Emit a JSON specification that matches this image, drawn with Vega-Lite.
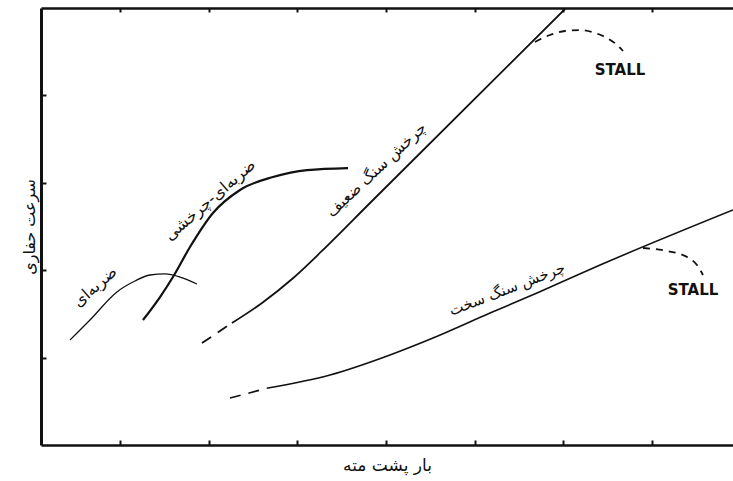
{
  "$schema": "https://vega.github.io/schema/vega-lite/v6.json",
  "width": 692,
  "height": 437,
  "autosize": "none",
  "padding": {"left": 41, "top": 8, "right": 0, "bottom": 36},
  "background": "white",
  "config": {
    "view": {"stroke": null},
    "font": "DejaVu Sans"
  },
  "datasets": {
    "curves": [
      {"c": "p", "x": 0.437, "y": 1.201},
      {"c": "p", "x": 0.662, "y": 1.430},
      {"c": "p", "x": 0.966, "y": 1.751},
      {"c": "p", "x": 1.169, "y": 1.876},
      {"c": "p", "x": 1.339, "y": 1.945},
      {"c": "p", "x": 1.508, "y": 1.957},
      {"c": "p", "x": 1.677, "y": 1.922},
      {"c": "p", "x": 1.869, "y": 1.842},
      {"c": "pr", "x": 1.260, "y": 1.430},
      {"c": "pr", "x": 1.452, "y": 1.693},
      {"c": "pr", "x": 1.598, "y": 1.922},
      {"c": "pr", "x": 1.790, "y": 2.265},
      {"c": "pr", "x": 2.049, "y": 2.654},
      {"c": "pr", "x": 2.354, "y": 2.918},
      {"c": "pr", "x": 2.726, "y": 3.066},
      {"c": "pr", "x": 3.110, "y": 3.146},
      {"c": "pr", "x": 3.572, "y": 3.169},
      {"c": "sd", "x": 1.925, "y": 1.167},
      {"c": "sd", "x": 2.263, "y": 1.396},
      {"c": "s", "x": 2.263, "y": 1.396},
      {"c": "s", "x": 2.602, "y": 1.625},
      {"c": "s", "x": 2.941, "y": 1.899},
      {"c": "s", "x": 3.278, "y": 2.220},
      {"c": "s", "x": 3.820, "y": 2.769},
      {"c": "s", "x": 6.030, "y": 5.0},
      {"c": "hd", "x": 2.241, "y": 0.538},
      {"c": "hd", "x": 2.669, "y": 0.652},
      {"c": "h", "x": 2.669, "y": 0.652},
      {"c": "h", "x": 3.369, "y": 0.801},
      {"c": "h", "x": 4.045, "y": 1.030},
      {"c": "h", "x": 4.530, "y": 1.224},
      {"c": "h", "x": 5.173, "y": 1.510},
      {"c": "h", "x": 5.703, "y": 1.739},
      {"c": "h", "x": 6.414, "y": 2.059},
      {"c": "h", "x": 7.913, "y": 2.689},
      {"c": "st1", "x": 5.680, "y": 4.611},
      {"c": "st1", "x": 5.849, "y": 4.691},
      {"c": "st1", "x": 6.018, "y": 4.737},
      {"c": "st1", "x": 6.188, "y": 4.748},
      {"c": "st1", "x": 6.357, "y": 4.714},
      {"c": "st1", "x": 6.492, "y": 4.657},
      {"c": "st1", "x": 6.605, "y": 4.577},
      {"c": "st1", "x": 6.673, "y": 4.508},
      {"c": "st2", "x": 6.898, "y": 2.254},
      {"c": "st2", "x": 7.169, "y": 2.220},
      {"c": "st2", "x": 7.395, "y": 2.151},
      {"c": "st2", "x": 7.507, "y": 2.059},
      {"c": "st2", "x": 7.575, "y": 1.945}
    ],
    "labels": [
      {"k": "p", "x": 0.718, "y": 1.810, "t": "ضربه‌ای"},
      {"k": "pr", "x": 2.015, "y": 2.803, "t": "ضربه‌ای-چرخشی"},
      {"k": "s", "x": 3.890, "y": 3.150, "t": "چرخش سنگ ضعیف"},
      {"k": "h", "x": 5.365, "y": 1.785, "t": "چرخش سنگ سخت"},
      {"k": "st", "x": 6.639, "y": 4.291, "t": "STALL"},
      {"k": "st", "x": 7.462, "y": 1.773, "t": "STALL"}
    ]
  },
  "resolve": {"axis": {"x": "independent"}},
  "encoding": {
    "x": {"field": "x", "type": "quantitative", "scale": {"domain": [0.11, 7.913], "nice": false, "zero": false}, "axis": null},
    "y": {"field": "y", "type": "quantitative", "scale": {"domain": [0, 5], "nice": false, "zero": false},
      "axis": {"orient": "left", "values": [1, 2, 3, 4], "tickSize": -5, "tickWidth": 2, "tickColor": "#111", "domainColor": "#111", "domainWidth": 3, "labels": false, "grid": false,
        "title": "سرعت حفاری", "titleFont": "DejaVu Sans", "titleFontSize": 16, "titleFontWeight": "normal", "titleColor": "#111", "titlePadding": 3}}
  },
  "layer": [
    {
      "data": {"name": "curves"},
      "transform": [{"filter": "datum.c === 'p'"}],
      "mark": {"type": "line", "color": "#111", "strokeWidth": 1.3, "interpolate": "monotone", "clip": true},
      "encoding": {
        "x": {"field": "x", "type": "quantitative", "scale": {"domain": [0.11, 7.913], "nice": false, "zero": false},
          "axis": {"orient": "bottom", "values": [1, 2, 3, 4, 5, 6, 7], "tickSize": -5, "tickWidth": 2, "tickColor": "#111", "domainColor": "#111", "domainWidth": 2.5, "labels": false, "grid": false,
            "title": "بار پشت مته", "titleFont": "DejaVu Sans", "titleFontSize": 17, "titleFontWeight": "normal", "titleColor": "#111", "titlePadding": 11}}
      }
    },
    {
      "data": {"name": "curves"},
      "transform": [{"filter": "datum.c === 'pr'"}],
      "mark": {"type": "line", "color": "#111", "strokeWidth": 2.2, "interpolate": "monotone", "clip": true},
      "encoding": {
        "x": {"field": "x", "type": "quantitative", "scale": {"domain": [0.11, 7.913], "nice": false, "zero": false},
          "axis": {"orient": "top", "values": [1, 2, 3, 4, 5, 6, 7], "tickSize": -4, "tickWidth": 2, "tickColor": "#111", "domainColor": "#111", "domainWidth": 2.5, "labels": false, "grid": false, "title": null}}
      }
    },
    {
      "data": {"name": "curves"},
      "transform": [{"filter": "datum.c === 'sd'"}],
      "mark": {"type": "line", "color": "#111", "strokeWidth": 1.8, "strokeDash": [11, 8], "clip": true}
    },
    {
      "data": {"name": "curves"},
      "transform": [{"filter": "datum.c === 's'"}],
      "mark": {"type": "line", "color": "#111", "strokeWidth": 1.8, "interpolate": "monotone", "clip": true}
    },
    {
      "data": {"name": "curves"},
      "transform": [{"filter": "datum.c === 'hd'"}],
      "mark": {"type": "line", "color": "#111", "strokeWidth": 1.6, "strokeDash": [11, 8], "clip": true}
    },
    {
      "data": {"name": "curves"},
      "transform": [{"filter": "datum.c === 'h'"}],
      "mark": {"type": "line", "color": "#111", "strokeWidth": 1.6, "interpolate": "monotone", "clip": true}
    },
    {
      "data": {"name": "curves"},
      "transform": [{"filter": "datum.c === 'st1' || datum.c === 'st2'"}],
      "mark": {"type": "line", "color": "#111", "strokeWidth": 1.8, "strokeDash": [7, 6], "interpolate": "monotone", "clip": true},
      "encoding": {"detail": {"field": "c"}}
    },
    {
      "data": {"name": "labels"},
      "transform": [{"filter": "datum.k === 'p'"}],
      "mark": {"type": "text", "angle": -41, "font": "DejaVu Sans", "fontSize": 16, "color": "#111", "align": "center", "baseline": "middle"},
      "encoding": {"text": {"field": "t"}}
    },
    {
      "data": {"name": "labels"},
      "transform": [{"filter": "datum.k === 'pr'"}],
      "mark": {"type": "text", "angle": -41, "font": "DejaVu Sans", "fontSize": 16, "color": "#111", "align": "center", "baseline": "middle"},
      "encoding": {"text": {"field": "t"}}
    },
    {
      "data": {"name": "labels"},
      "transform": [{"filter": "datum.k === 's'"}],
      "mark": {"type": "text", "angle": -43, "font": "DejaVu Sans", "fontSize": 15.5, "color": "#111", "align": "center", "baseline": "middle"},
      "encoding": {"text": {"field": "t"}}
    },
    {
      "data": {"name": "labels"},
      "transform": [{"filter": "datum.k === 'h'"}],
      "mark": {"type": "text", "angle": -21, "font": "DejaVu Sans", "fontSize": 15, "color": "#111", "align": "center", "baseline": "middle"},
      "encoding": {"text": {"field": "t"}}
    },
    {
      "data": {"name": "labels"},
      "transform": [{"filter": "datum.k === 'st'"}],
      "mark": {"type": "text", "font": "DejaVu Sans", "fontSize": 15, "fontWeight": "bold", "color": "#111", "align": "center", "baseline": "middle"},
      "encoding": {"text": {"field": "t"}}
    }
  ]
}
